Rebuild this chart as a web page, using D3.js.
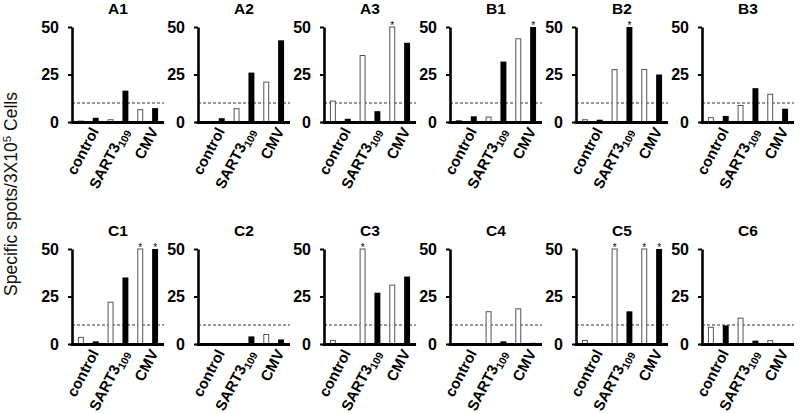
<!DOCTYPE html>
<html>
<head>
<meta charset="utf-8">
<script src="https://cdn.jsdelivr.net/npm/d3@7/dist/d3.min.js"></script>
<style>
  html, body { margin: 0; padding: 0; background: #fff; }
  svg { display: block; font-family: "Liberation Sans", Arial, sans-serif; }
</style>
</head>
<body>
<div id="chart"></div>
<script>
// ---- data ----
const panelNames = ["A1", "A2", "A3", "B1", "B2", "B3", "C1", "C2", "C3", "C4", "C5", "C6"];
const groups = ["control", "SART3", "CMV"];
const series = ["open", "filled"];   // open (white) bar, filled (black) bar per group
const yTicks = [0, 25, 50];
const cutoff = 10;
const yMax = 50;

// values in order: control(open, filled), SART3(open, filled), CMV(open, filled)
const A1 = [0.5, 2.2, 1.2, 16.5, 6.5, 7.3];
const A2 = [0, 2, 7, 26, 21, 43];
const A3 = [11, 1.7, 35, 5.7, 50, 41.7];
const B1 = [0.8, 3, 2.6, 31.8, 43.8, 50];
const B2 = [1.2, 1.2, 27.6, 50, 27.6, 25];
const B3 = [2.3, 3.2, 8.7, 17.8, 14.6, 7];
const C1 = [3.5, 1.4, 22, 35, 50, 50];
const C2 = [0, 0, 0, 4, 5, 2.4];
const C3 = [1.9, 0, 50, 27, 31, 35.5];
const C4 = [0, 0, 17, 1.4, 18.5, 0.6];
const C5 = [1.9, 0, 50, 17.2, 50, 50];
const C6 = [8.8, 9.8, 13.6, 1.8, 1.8, 0];
const panelValues = [A1, A2, A3, B1, B2, B3, C1, C2, C3, C4, C5, C6];

// ---- layout ----
const W = 800, H = 414;
const nCols = 6;
const firstAxisX = 72, colStep = 126, plotW = 92, plotH = 95;
const rowBase = [122, 344];

const svg = d3.select("#chart").append("svg")
  .attr("width", W).attr("height", H);

const y = d3.scaleLinear().domain([0, yMax]).range([plotH, 0]);
const slots = d3.range(groups.length * series.length);
const x = d3.scaleBand().domain(slots).range([0, plotW]).paddingInner(0.6).paddingOuter(0.4);

panelNames.forEach((name, i) => {
  const col = i % nCols, row = Math.floor(i / nCols);
  const g = svg.append("g")
    .attr("transform", `translate(${firstAxisX + col * colStep},${rowBase[row] - plotH})`);
  const vals = panelValues[i];

  // title
  g.append("text")
    .attr("x", plotW / 2).attr("y", -13)
    .attr("text-anchor", "middle")
    .attr("font-size", 15.5).attr("font-weight", "bold")
    .text(name);

  // cutoff dashed line
  g.append("line")
    .attr("x1", 0).attr("x2", plotW)
    .attr("y1", y(cutoff)).attr("y2", y(cutoff))
    .attr("stroke", "#333").attr("stroke-width", 1)
    .attr("stroke-dasharray", "3,2");

  // bars
  const data = vals.map((v, k) => ({ v, k, s: series[k % 2] }));
  g.selectAll("rect.bar").data(data.filter(d => d.v > 0)).join("rect")
    .attr("class", "bar")
    .attr("x", d => x(d.k) + (d.s === "open" ? 0.5 : 0))
    .attr("width", d => x.bandwidth() - (d.s === "open" ? 1 : 0))
    .attr("y", d => y(Math.min(d.v, yMax)))
    .attr("height", d => Math.max(0, y(0) - y(Math.min(d.v, yMax))))
    .attr("fill", d => d.s === "open" ? "#fff" : "#000")
    .attr("stroke", d => d.s === "open" ? "#555" : "none")
    .attr("stroke-width", 1);

  // asterisks for capped bars
  g.selectAll("text.star").data(data.filter(d => d.v >= yMax)).join("text")
    .attr("class", "star")
    .attr("x", d => x(d.k) + x.bandwidth() / 2)
    .attr("y", y(yMax) + 2)
    .attr("text-anchor", "middle")
    .attr("font-size", 10)
    .attr("fill", "#000")
    .text("*");

  // y axis
  const yAxis = g.append("g").call(
    d3.axisLeft(y).tickValues(yTicks).tickSize(4).tickPadding(9).tickSizeOuter(0));
  yAxis.select(".domain").attr("stroke", "#000").attr("stroke-width", 2.6);
  yAxis.selectAll(".tick line").attr("stroke-width", 2);
  yAxis.selectAll(".tick text")
    .attr("font-size", 16).attr("font-weight", "bold")
    .attr("font-family", "Liberation Sans, Arial, sans-serif")
    .attr("fill", "#000");

  // x axis baseline
  g.append("line")
    .attr("x1", -1.3).attr("x2", plotW)
    .attr("y1", y(0) + 0.5).attr("y2", y(0) + 0.5)
    .attr("stroke", "#000").attr("stroke-width", 3);

  // category labels
  groups.forEach((grp, gi) => {
    const cx = (x(gi * 2) + x(gi * 2 + 1) + x.bandwidth()) / 2;
    const t = g.append("text")
      .attr("transform", `translate(${cx + 11},${plotH + 9}) rotate(-62)`)
      .attr("text-anchor", "end")
      .attr("font-size", 15).attr("font-weight", "bold");
    if (grp === "SART3") {
      t.append("tspan").text("SART3");
      t.append("tspan").attr("font-size", 10.5).attr("dy", 3.5).text("109");
    } else {
      t.text(grp);
    }
  });
});

// y axis title
const yt = svg.append("text")
  .attr("transform", `translate(17,194) rotate(-90)`)
  .attr("text-anchor", "middle")
  .attr("font-size", 17.5)
  .attr("fill", "#111");
yt.append("tspan").text("Specific spots/3X10");
yt.append("tspan").attr("font-size", 11.5).attr("dy", -6).text("5");
yt.append("tspan").attr("dy", 6).text(" Cells");
</script>
</body>
</html>
